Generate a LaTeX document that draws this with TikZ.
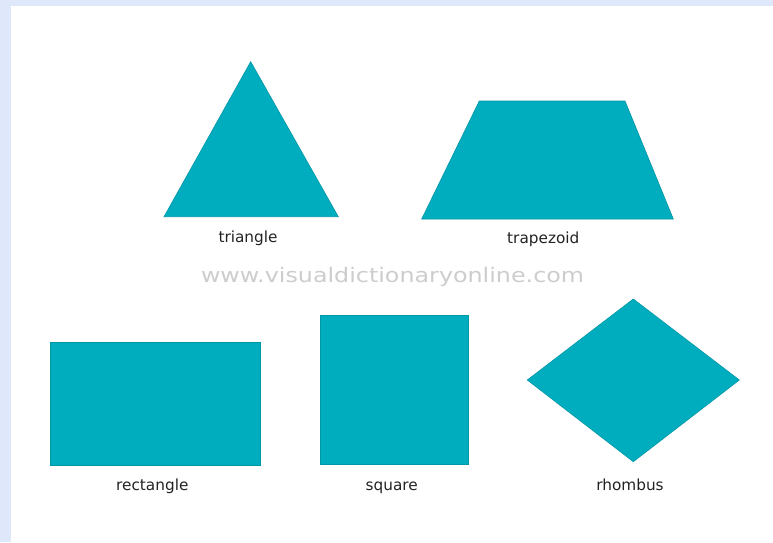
\documentclass[tikz,border=0pt]{standalone}
\usepackage{fontspec}
\setmainfont{DejaVu Sans}
\definecolor{teal}{RGB}{0,173,191}
\definecolor{tealedge}{RGB}{0,150,166}
\definecolor{bgblue}{RGB}{222,232,250}
\definecolor{labelgray}{RGB}{35,35,35}
\definecolor{wmgray}{RGB}{205,205,205}
\tikzset{
  shapefill/.style={fill=teal,draw=tealedge,line width=0.6pt,line join=miter},
  lbl/.style={text=labelgray,font=\fontsize{15.3}{17}\selectfont,inner sep=0pt,anchor=base}
}
\begin{document}
\begin{tikzpicture}[x=1pt,y=-1pt]
\useasboundingbox (0,0) rectangle (773,542);
% background frame
\fill[bgblue] (0,0) rectangle (773,542);
\fill[white] (11,6) rectangle (773,542);
% triangle
\path[shapefill] (250.7,61.7) -- (338.3,216.7) -- (164,216.7) -- cycle;
\node[lbl] (ltri) at (248,242.5) {triangle};
% trapezoid
\path[shapefill] (479.3,101) -- (625,101) -- (673.3,219) -- (421.7,219) -- cycle;
\node[lbl] (ltrap) at (543.3,243.5) {trapezoid};
% watermark
\node[text=wmgray,inner sep=0pt,anchor=base,font=\fontsize{20}{22}\selectfont] (wm) at (392.5,282) {\scalebox{1.19}[1]{www.visualdictionaryonline.com}};
% rectangle
\path[shapefill] (50.7,342.7) rectangle (260,465);
\node[lbl] (lrect) at (152.3,490.5) {rectangle};
% square
\path[shapefill] (320,315) rectangle (468.3,464);
\node[lbl] (lsq) at (391.7,490.5) {square};
% rhombus
\path[shapefill] (633.3,299) -- (739.3,380) -- (633.3,461.7) -- (527.3,380) -- cycle;
\node[lbl] (lrh) at (630,490.5) {rhombus};
\end{tikzpicture}
\end{document}
